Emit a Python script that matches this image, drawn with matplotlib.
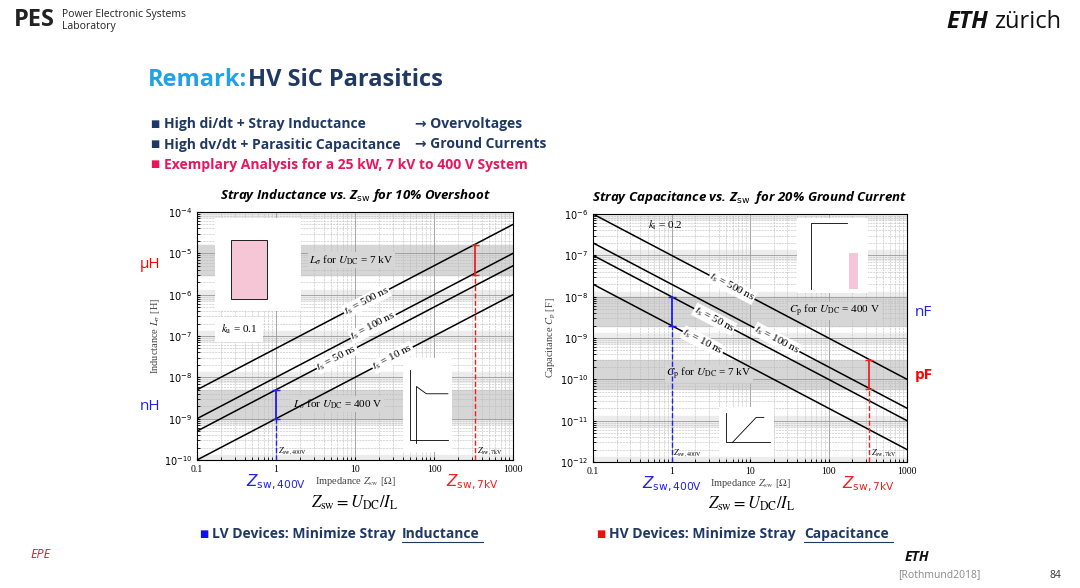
import numpy as np
import matplotlib.pyplot as plt
import matplotlib.patches as mpatches

plt.rcParams['mathtext.fontset'] = 'stix'

# ---------------- data ----------------
z = np.array([0.1, 1000.0])
ts_ns = [500, 100, 50, 10]
ku = 0.1   # overshoot factor, left chart
ki = 0.2   # ground current factor, right chart
l_labels_z = [14, 17, 5.9, 30]
c_labels_z = [5.9, 22, 3.5, 2.5]
z_400 = 1.0
z_7k = 330.0
l_band_7k = (3e-6, 1.6e-5)
l_band_400 = (1e-9, 5e-9)
c_band_400 = (2e-9, 1e-8)
c_band_7k = (6e-11, 3e-10)

W, H = 1080, 588
fig = plt.figure(figsize=(10.8, 5.88), dpi=100)
navy = '#1f3864'
pink = '#e8175d'
sans = ['Open Sans', 'DejaVu Sans']
serif = 'Liberation Serif'

def ft(x, y, s, **kw):
    fig.text(x / W, 1 - y / H, s, **kw)

# ---------------- header ----------------
ft(14, 20, 'PES', fontsize=17, fontweight='bold', color='#222', va='center', family=sans)
ft(62, 14, 'Power Electronic Systems', fontsize=7.5, color='#222', va='center', family=sans)
ft(62, 27, 'Laboratory', fontsize=7.5, color='#222', va='center', family=sans)
ft(946, 22, 'ETH', fontsize=17, fontweight='bold', style='italic', color='#111', va='center', family=sans)
ft(994, 22, 'zürich', fontsize=17, color='#111', va='center', family=sans)
ft(148, 80, 'Remark:', fontsize=17, fontweight='bold', color='#1ea4e4', va='center', family=sans)
ft(248, 80, 'HV SiC Parasitics', fontsize=17, fontweight='bold', color=navy, va='center', family=sans)

bullets = [('High di/dt + Stray Inductance', '→ Overvoltages', navy),
           ('High dv/dt + Parasitic Capacitance', '→ Ground Currents', navy),
           ('Exemplary Analysis for a 25 kW, 7 kV to 400 V System', '', pink)]
for i, (a, b, c) in enumerate(bullets):
    y = 124 + i * 20.5
    ft(150, y, '■', fontsize=7, color=c, va='center', family=sans)
    ft(164, y, a, fontsize=10, fontweight='bold', color=c, va='center', family=sans)
    if b:
        ft(415, y, b, fontsize=10, fontweight='bold', color=c, va='center', family=sans)

ft(199, 534, '■', fontsize=7, color='#1010ee', va='center', family=sans)
ft(212, 534, 'LV Devices: Minimize Stray', fontsize=10, fontweight='bold', color=navy, va='center', family=sans)
ft(402, 534, 'Inductance', fontsize=10, fontweight='bold', color=navy, va='center', family=sans)
fig.add_artist(plt.Line2D([402 / W, 483 / W], [1 - 542 / H] * 2, color=navy, lw=0.8))
ft(596, 534, '■', fontsize=7, color='#ee1010', va='center', family=sans)
ft(609, 534, 'HV Devices: Minimize Stray', fontsize=10, fontweight='bold', color=navy, va='center', family=sans)
ft(804, 534, 'Capacitance', fontsize=10, fontweight='bold', color=navy, va='center', family=sans)
fig.add_artist(plt.Line2D([804 / W, 893 / W], [1 - 542 / H] * 2, color=navy, lw=0.8))
ft(898, 575, '[Rothmund2018]', fontsize=7.5, color='#888', va='center', family=sans)
ft(1050, 575, '84', fontsize=7.5, color='#333', va='center', family=sans)
ft(905, 557, 'ETH', fontsize=10, fontweight='bold', style='italic', color='#111', va='center', family=sans)
ft(30, 555, 'EPE', fontsize=9, style='italic', color='#d02020', va='center', family=sans)

# ---------------- chart helpers ----------------
def setup(ax, ylim, ylabel):
    ax.set_xscale('log')
    ax.set_yscale('log')
    ax.set_xlim(0.1, 1000)
    ax.set_ylim(*ylim)
    ax.grid(True, which='major', color='#999', lw=0.6)
    ax.grid(True, which='minor', color='#bbb', lw=0.4, ls='--')
    ax.tick_params(labelsize=7, direction='in', which='both', length=2)
    ax.set_xticks([0.1, 1, 10, 100, 1000])
    ax.set_xticklabels(['0.1', '1', '10', '100', '1000'], family=serif)
    ax.set_xlabel(r'Impedance $Z_{\rm sw}$ [$\Omega$]', fontsize=7.5, family=serif, labelpad=1, color='#444')
    ax.set_ylabel(ylabel, fontsize=7.5, family=serif, labelpad=1, color='#444')
    lo, hi = ylim
    for e in range(int(np.log10(lo)), int(np.log10(hi)) + 1):
        ax.axhspan(10 ** (e - 0.12), 10 ** (e + 0.12), color='#ececec', zorder=0)

def band(ax, rng, text, tx):
    ax.axhspan(*rng, color='#d6d6d6', zorder=0.5)
    ax.text(tx, np.sqrt(rng[0] * rng[1]), text, fontsize=8, family=serif, ha='center', va='center',
            bbox=dict(fc='#d6d6d6', ec='none', pad=1), zorder=3)

def label(ax, zz, val, ts, rot):
    ax.text(zz, val, r'$t_{\rm s}$ = %d ns' % ts, fontsize=8, family=serif, rotation=rot,
            ha='center', va='center', bbox=dict(fc='white', ec='none', pad=0.5), zorder=4)

# ---------------- left chart ----------------
ax1 = fig.add_axes([197 / W, 1 - 460 / H, 316 / W, 248 / H])
setup(ax1, (1e-10, 1e-4), r'Inductance $L_\sigma$ [H]')
band(ax1, l_band_7k, r'$L_\sigma$ for $U_{\rm DC}$ = 7 kV', 9)
band(ax1, l_band_400, r'$L_\sigma$ for $U_{\rm DC}$ = 400 V', 6)
rot1 = np.degrees(np.arctan((248 / 6) / (316 / 4)))
for ts, lz in zip(ts_ns, l_labels_z):
    ax1.plot(z, ku * ts * 1e-9 * z, color='k', lw=1.1, zorder=3)
    label(ax1, lz, ku * ts * 1e-9 * lz, ts, rot1)
ax1.plot([z_400, z_400], l_band_400, color='#2020ee', lw=1.3, marker='_', ms=6, zorder=5)
ax1.plot([z_400, z_400], [1e-10, l_band_400[0]], color='#2020ee', lw=1, ls='--', zorder=5)
ax1.plot([z_7k, z_7k], l_band_7k, color='#ee2020', lw=1.3, marker='_', ms=6, zorder=5)
ax1.plot([z_7k, z_7k], [1e-10, l_band_7k[0]], color='#ee2020', lw=1, ls='--', zorder=5)
ax1.text(1.05, 1.5e-10, r'$Z_{\rm sw,400V}$', fontsize=6, family=serif, zorder=5)
ax1.text(350, 1.5e-10, r'$Z_{\rm sw,7kV}$', fontsize=6, family=serif, zorder=5)
ax1.text(0.2, 1.2e-7, r'$k_{\rm u}$ = 0.1', fontsize=8, family=serif, bbox=dict(fc='white', ec='none'), zorder=5)
# inset circuit placeholders
ax1.add_patch(mpatches.Rectangle((0.17, 4e-7), 1.9, 7e-5, fc='white', ec='none', zorder=4))
ax1.add_patch(mpatches.Rectangle((0.27, 8e-7), 0.5, 2e-5, fc='#f4c6d6', ec='k', lw=0.6, zorder=5))
ax1.add_patch(mpatches.Rectangle((40, 1.6e-10), 130, 3e-8, fc='white', ec='none', zorder=4))
ax1.plot([50, 50, 150], [5e-9 * 3, 3e-10, 3e-10], color='k', lw=0.6, zorder=5)
ax1.plot([60, 60, 80, 150], [2.5e-10, 6e-9, 4e-9, 4e-9], color='k', lw=0.6, zorder=5)
ax1.set_title(r'Stray Inductance vs. Z$_{\rm sw}$ for 10% Overshoot', fontsize=9.5, fontweight='bold',
              style='italic', family=sans, pad=9, math_fontfamily='dejavusans')
ft(140, 265, 'µH', fontsize=11, color='red', va='center', family=sans)
ft(140, 407, 'nH', fontsize=11, color='#2020ee', va='center', family=sans)
ft(276, 482, r'$Z_{\rm sw,400V}$', fontsize=11, color='#2020ee', ha='center', va='center',
   math_fontfamily='dejavusans')
ft(472, 482, r'$Z_{\rm sw,7kV}$', fontsize=11, color='#ee2020', ha='center', va='center',
   math_fontfamily='dejavusans')
ft(355, 503, r'$Z_{\rm sw} = U_{\rm DC}/I_{\rm L}$', fontsize=12, ha='center', va='center')

# ---------------- right chart ----------------
ax2 = fig.add_axes([593 / W, 1 - 462 / H, 314 / W, 248 / H])
setup(ax2, (1e-12, 1e-6), r'Capacitance $C_{\rm p}$ [F]')
band(ax2, c_band_400, r'$C_{\rm p}$ for $U_{\rm DC}$ = 400 V', 120)
band(ax2, c_band_7k, r'$C_{\rm p}$ for $U_{\rm DC}$ = 7 kV', 3)
for ts, lz in zip(ts_ns, c_labels_z):
    ax2.plot(z, ki * ts * 1e-9 / z, color='k', lw=1.1, zorder=3)
    label(ax2, lz, ki * ts * 1e-9 / lz, ts, -rot1)
ax2.plot([z_400, z_400], c_band_400, color='#2020ee', lw=1.3, marker='_', ms=6, zorder=5)
ax2.plot([z_400, z_400], [1e-12, c_band_400[0]], color='#2020ee', lw=1, ls='--', zorder=5)
ax2.plot([z_7k, z_7k], c_band_7k, color='#ee2020', lw=1.3, marker='_', ms=6, zorder=5)
ax2.plot([z_7k, z_7k], [1e-12, c_band_7k[0]], color='#ee2020', lw=1, ls='--', zorder=5)
ax2.text(1.05, 1.5e-12, r'$Z_{\rm sw,400V}$', fontsize=6, family=serif, zorder=5)
ax2.text(350, 1.5e-12, r'$Z_{\rm sw,7kV}$', fontsize=6, family=serif, zorder=5)
ax2.text(0.5, 4.5e-7, r'$k_{\rm i}$ = 0.2', fontsize=8, family=serif, zorder=5)
ax2.add_patch(mpatches.Rectangle((40, 1.2e-8), 280, 8e-7, fc='white', ec='none', zorder=4))
ax2.add_patch(mpatches.Rectangle((180, 1.5e-8), 60, 1e-7, fc='#f4c6d6', ec='none', zorder=5))
ax2.plot([60, 60, 170], [1.5e-8, 6e-7, 6e-7], color='k', lw=0.6, zorder=5)
ax2.add_patch(mpatches.Rectangle((4, 1.3e-12), 16, 2e-11, fc='white', ec='none', zorder=4))
ax2.plot([5, 5, 18], [1.5e-11, 3e-12, 3e-12], color='k', lw=0.6, zorder=5)
ax2.plot([6, 12, 15], [3e-12, 1.2e-11, 1.2e-11], color='k', lw=0.6, zorder=5)
ax2.set_title(r'Stray Capacitance vs. Z$_{\rm sw}$  for 20% Ground Current', fontsize=9.5, fontweight='bold',
              style='italic', family=sans, pad=9, math_fontfamily='dejavusans')
ft(915, 312, 'nF', fontsize=11, color='#2020ee', va='center', family=sans)
ft(915, 375, 'pF', fontsize=11, color='red', fontweight='bold', va='center', family=sans)
ft(672, 484, r'$Z_{\rm sw,400V}$', fontsize=11, color='#2020ee', ha='center', va='center',
   math_fontfamily='dejavusans')
ft(868, 484, r'$Z_{\rm sw,7kV}$', fontsize=11, color='#ee2020', ha='center', va='center',
   math_fontfamily='dejavusans')
ft(752, 504, r'$Z_{\rm sw} = U_{\rm DC}/I_{\rm L}$', fontsize=12, ha='center', va='center')

fig.savefig('out.png', dpi=100)
